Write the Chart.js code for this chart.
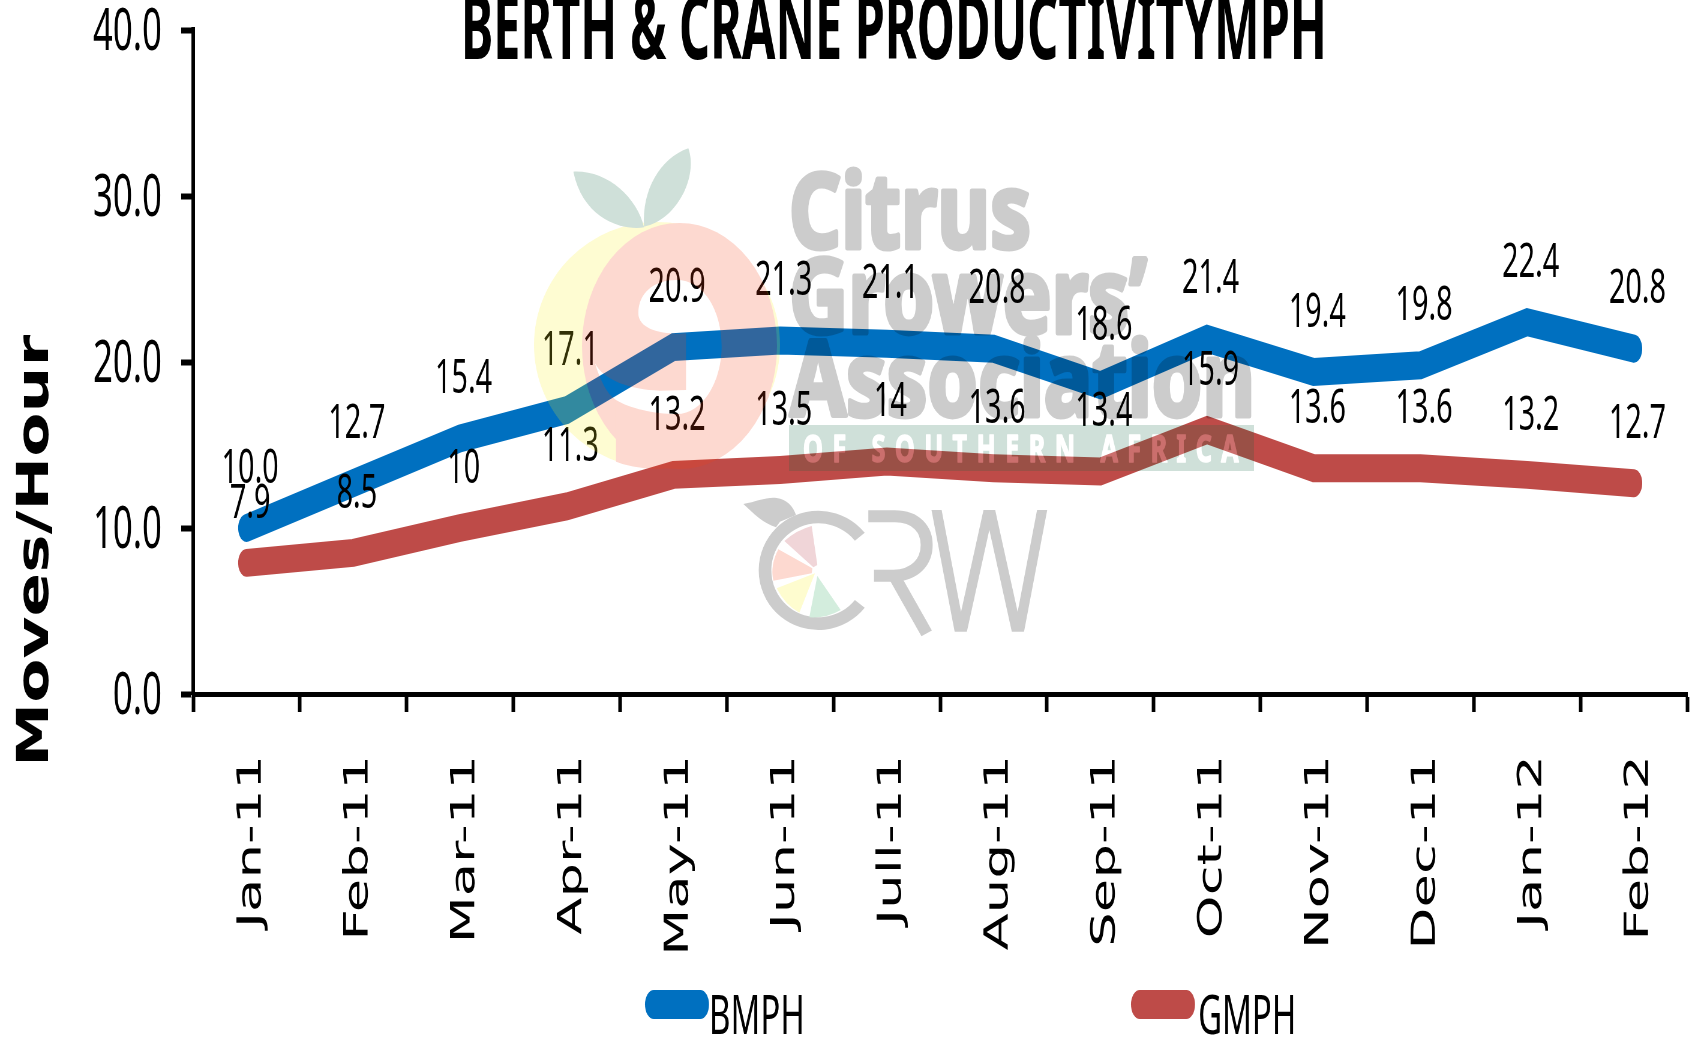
<!DOCTYPE html>
<html>
<head>
<meta charset="utf-8">
<style>
  html, body { margin: 0; padding: 0; background: #fff; overflow: hidden; }
  #wrap { width: 1691px; height: 1038px; overflow: hidden; }
  /* the source picture is squeezed sideways, so draw wide and squeeze the canvas */
  #chart { display: block; transform: scaleX(0.6); transform-origin: 0 0; }
</style>
<script src="https://cdn.jsdelivr.net/npm/chart.js@4"></script>
</head>
<body>
<div id="wrap"><canvas id="chart"></canvas></div>
<script>
const months = ["Jan-11","Feb-11","Mar-11","Apr-11","May-11","Jun-11","Jull-11","Aug-11","Sep-11","Oct-11","Nov-11","Dec-11","Jan-12","Feb-12"];
const bmph = [10.0,12.7,15.4,17.1,20.9,21.3,21.1,20.8,18.6,21.4,19.4,19.8,22.4,20.8];
const gmph = [7.9,8.5,10,11.3,13.2,13.5,14,13.6,13.4,15.9,13.6,13.6,13.2,12.7];
const yTicks = [0,10,20,30,40];

const SQ = 0.6;
const W = Math.round(1691 / SQ);
const H = 1038;
const numFont = '"Noto Sans"';

const canvas = document.getElementById("chart");
canvas.width = W;
canvas.height = H;

// text squeezed to fit between two x values (in final picture pixels)
function fitText(c, text, x0, x1, base, font, scaleUnit, thicken) {
  c.save();
  c.font = font;
  c.textAlign = "left";
  c.textBaseline = "alphabetic";
  const w = c.measureText(text).width;
  c.translate(x0 * scaleUnit, base);
  c.scale((x1 - x0) * scaleUnit / w, 1);
  c.fillText(text, 0, 0);
  if (thicken) {
    c.strokeStyle = c.fillStyle;
    c.lineWidth = thicken;
    c.lineJoin = "round";
    c.strokeText(text, 0, 0);
  }
  c.restore();
}

function shape(m, col, draw) {
  m.fillStyle = col;
  m.beginPath();
  draw();
  m.closePath();
  m.fill();
}

function buildWatermark() {
  const off = document.createElement("canvas");
  off.width = W;
  off.height = H;
  const m = off.getContext("2d");
  m.scale(1 / SQ, 1);

  const yellow = "rgb(250,238,30)";
  const pink = "rgb(245,65,20)";
  const green = "rgb(15,100,65)";

  // fruit
  shape(m, yellow, () => m.ellipse(657, 345, 123, 123, 0, 0, Math.PI * 2));
  shape(m, pink, () => m.ellipse(679.5, 346, 97.5, 123, 0, 0, Math.PI * 2));
  m.save();
  m.beginPath(); m.ellipse(657, 345, 123, 124, 0, 0, Math.PI * 2); m.clip();
  m.fillStyle = pink;
  m.fillRect(616, 395, 170, 80);
  m.restore();

  m.save();
  m.translate(520, 140);
  m.scale(1 / 3, 1 / 3);
  m.globalCompositeOperation = "destination-out";
  shape(m, "#000", () => {
    m.moveTo(355, 520);
    m.bezierCurveTo(355, 460, 400, 420, 470, 420);
    m.bezierCurveTo(550, 420, 605, 510, 605, 620);
    m.bezierCurveTo(605, 720, 550, 822, 470, 822);
    m.bezierCurveTo(400, 822, 330, 805, 288, 780);
    m.bezierCurveTo(262, 765, 240, 720, 225, 670);
    m.bezierCurveTo(250, 720, 330, 750, 420, 752);
    m.lineTo(498, 750);
    m.lineTo(498, 580);
    m.bezierCurveTo(430, 585, 355, 570, 355, 520);
  });
  m.globalCompositeOperation = "source-over";

  // leaves
  shape(m, green, () => {
    m.moveTo(160, 95);
    m.bezierCurveTo(260, 90, 350, 170, 372, 262);
    m.bezierCurveTo(310, 272, 190, 240, 160, 95);
  });
  shape(m, green, () => {
    m.moveTo(505, 25);
    m.bezierCurveTo(420, 55, 365, 150, 372, 260);
    m.bezierCurveTo(470, 240, 535, 110, 505, 25);
  });
  m.restore();

  // association name
  m.fillStyle = "rgb(0,0,0)";
  const big = 'bold 104px "Noto Sans"';
  fitText(m, "Citrus", 789, 1031, 248, big, 1, 5);
  fitText(m, "Growers\u2019", 789, 1147, 333, big, 1, 5);
  fitText(m, "Association", 790, 1255, 416, big, 1, 5);

  m.fillStyle = green;
  m.fillRect(789, 425, 465, 46);
  m.fillStyle = "#fff";
  m.letterSpacing = "14px";
  fitText(m, "OF SOUTHERN AFRICA", 803, 1248, 462, 'bold 38px "Noto Sans"', 1, 1.5);
  m.letterSpacing = "0px";

  // CRW mark, drawn in the coordinates of a 3x crop
  m.save();
  m.translate(730, 490);
  m.scale(1 / 3, 1 / 3);
  m.strokeStyle = "rgb(0,0,0)";
  m.lineWidth = 38;
  m.beginPath(); m.arc(265, 241, 160, 0.68, -0.68); m.stroke();
  shape(m, "rgb(0,0,0)", () => {
    m.moveTo(40, 42);
    m.bezierCurveTo(80, 35, 110, 20, 140, 24);
    m.bezierCurveTo(170, 28, 190, 50, 198, 75);
    m.lineTo(150, 95);
    m.lineTo(138, 112);
    m.bezierCurveTo(100, 100, 70, 70, 40, 42);
  });
  shape(m, "rgb(180,45,60)", () => {
    m.moveTo(163, 153);
    m.quadraticCurveTo(200, 120, 245, 108);
    m.lineTo(262, 225);
    m.lineTo(250, 232);
  });
  shape(m, "rgb(245,65,20)", () => {
    m.moveTo(145, 178);
    m.lineTo(247, 235);
    m.lineTo(245, 250);
    m.lineTo(130, 272);
    m.quadraticCurveTo(120, 225, 145, 178);
  });
  shape(m, "rgb(250,240,15)", () => {
    m.moveTo(140, 295);
    m.lineTo(255, 250);
    m.lineTo(208, 368);
    m.quadraticCurveTo(165, 345, 140, 295);
  });
  shape(m, "rgb(35,165,85)", () => {
    m.moveTo(262, 258);
    m.lineTo(332, 360);
    m.quadraticCurveTo(290, 385, 238, 382);
  });

  // R
  m.lineWidth = 36;
  m.beginPath();
  m.moveTo(415, 79);
  m.lineTo(495, 79);
  m.bezierCurveTo(560, 79, 590, 120, 590, 165);
  m.bezierCurveTo(590, 215, 555, 257, 490, 257);
  m.lineTo(432, 257);
  m.stroke();
  m.beginPath();
  m.moveTo(495, 262);
  m.lineTo(590, 430);
  m.stroke();
  // W
  m.save();
  m.beginPath(); m.rect(590, 60, 380, 365); m.clip();
  m.lineWidth = 30;
  m.beginPath();
  m.moveTo(612, 20);
  m.lineTo(692, 440);
  m.lineTo(778, 50);
  m.lineTo(864, 440);
  m.lineTo(944, 20);
  m.stroke();
  m.restore();
  m.restore();
  return off;
}

const valueLabels = {
  id: "valueLabels",
  afterDatasetsDraw(chart) {
    const c = chart.ctx;
    c.save();
    c.fillStyle = "#000";
    c.font = "48px " + numFont;
    c.textAlign = "center";
    c.textBaseline = "middle";
    chart.data.datasets.forEach((ds, i) => {
      chart.getDatasetMeta(i).data.forEach((pt, j) => {
        const v = ds.data[j];
        const txt = i === 0 ? v.toFixed(1) : String(v);
        c.fillText(txt, pt.x + 6, pt.y - 59);
      });
    });
    c.restore();
  }
};

const extras = {
  id: "extras",
  afterDraw(chart) {
    const c = chart.ctx;
    c.save();
    c.fillStyle = "#000";

    fitText(c, "BERTH & CRANE PRODUCTIVITYMPH", 461, 1327, 59, 'bold 90px "Noto Sans"', 1 / SQ);

    c.save();
    c.translate(48 / SQ, 767);
    c.rotate(-Math.PI / 2);
    c.scale(1, 1.12);
    c.font = 'bold 64.5px "DejaVu Sans"';
    c.textAlign = "left";
    c.textBaseline = "alphabetic";
    c.fillText("Moves/Hour", 0, 0);
    c.restore();

    // legend
    const swatchX = [645, 1131];
    const textX = [709, 1198];
    chart.data.datasets.forEach((ds, i) => {
      c.fillStyle = ds.borderColor;
      c.beginPath();
      c.roundRect(swatchX[i] / SQ, 990, 64 / SQ, 29, 14.5);
      c.fill();
      c.fillStyle = "#000";
      c.font = "55px " + numFont;
      c.textAlign = "left";
      c.textBaseline = "alphabetic";
      c.fillText(ds.label, textX[i] / SQ, 1034);
    });

    // watermark sits on top of everything, faint
    c.globalAlpha = 0.2;
    c.drawImage(buildWatermark(), 0, 0);
    c.restore();
  }
};

new Chart(canvas, {
  type: "line",
  data: {
    labels: months,
    datasets: [
      {
        label: "BMPH",
        data: bmph,
        borderColor: "#0070C0",
        borderWidth: 28,
        borderCapStyle: "round",
        borderJoinStyle: "miter",
        pointRadius: 0,
        tension: 0,
        fill: false,
        clip: false
      },
      {
        label: "GMPH",
        data: gmph,
        borderColor: "#BE4B48",
        borderWidth: 28,
        borderCapStyle: "round",
        borderJoinStyle: "miter",
        pointRadius: 0,
        tension: 0,
        fill: false,
        clip: false
      }
    ]
  },
  options: {
    responsive: false,
    animation: false,
    devicePixelRatio: 1,
    layout: { autoPadding: false, padding: { left: 0, right: 6, top: 30, bottom: 0 } },
    plugins: {
      legend: { display: false },
      title: { display: false },
      tooltip: { enabled: false }
    },
    scales: {
      x: {
        type: "category",
        offset: true,
        afterFit: (s) => { s.height = H - 694; s.paddingLeft = 0; s.paddingRight = 0; },
        grid: {
          offset: true,
          drawOnChartArea: false,
          tickLength: 18,
          tickWidth: 6,
          tickColor: "#000"
        },
        border: { color: "#000", width: 5 },
        ticks: {
          color: "#000",
          font: { family: "DejaVu Sans", size: 54.5 },
          autoSkip: false,
          minRotation: 90,
          maxRotation: 90,
          padding: 43,
          labelOffset: 9
        }
      },
      y: {
        min: 0,
        max: 40,
        afterFit: (s) => { s.width = 322; s.paddingTop = 0; s.paddingBottom = 0; },
        afterBuildTicks: (s) => { s.ticks = yTicks.map((v) => ({ value: v })); },
        grid: {
          drawOnChartArea: false,
          tickLength: 20,
          tickWidth: 6,
          tickColor: "#000"
        },
        border: { color: "#000", width: 6 },
        ticks: {
          color: "#000",
          font: { family: "Noto Sans", size: 58 },
          padding: 32,
          labelOffset: 3,
          callback: (v) => Number(v).toFixed(1)
        }
      }
    }
  },
  plugins: [valueLabels, extras]
});
</script>
</body>
</html>
